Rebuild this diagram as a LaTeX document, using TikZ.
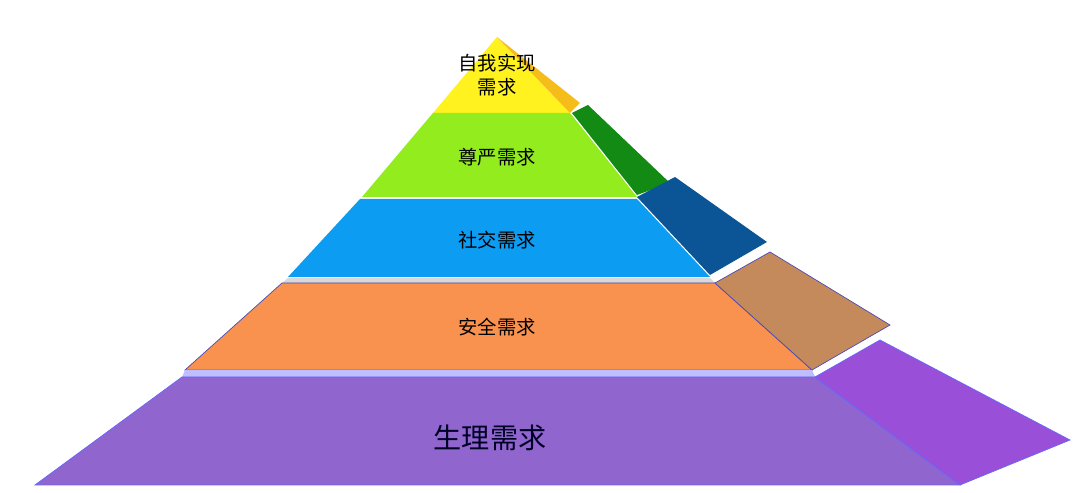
\documentclass[tikz,border=0pt]{standalone}
\usepackage{fontspec}
\newfontfamily\cjk{Noto Sans CJK SC}
\definecolor{topyel}{HTML}{FFF21E}
\definecolor{topside}{HTML}{F5BC1A}
\definecolor{lgreen}{HTML}{92EC1E}
\definecolor{dgreen}{HTML}{128A14}
\definecolor{lblue}{HTML}{0C9CF2}
\definecolor{dblue}{HTML}{0B5596}
\definecolor{lorange}{HTML}{F9914F}
\definecolor{brownside}{HTML}{C48A5C}
\definecolor{lpurple}{HTML}{9165CE}
\definecolor{dpurple}{HTML}{9A4FD8}
\tikzset{
  layer/.style={line width=0.4pt, draw=#1!70!white},
  label/.style={font=\cjk\fontsize{11}{14}\selectfont, text=black, align=center},
  biglabel/.style={font=\cjk\fontsize{16}{19}\selectfont, text=black!85!blue}
}
\begin{document}
\begin{tikzpicture}[x=0.02cm,y=-0.02cm]
	  \useasboundingbox [fill=white] (0,0) rectangle (1080,493);

	  % layer fronts
	  \fill [topyel] (497,37)--(570,113)--(433,113)--cycle;
	  \fill [topside] (497,37)--(580,103)--(570,113)--cycle;
	  \fill [lgreen] (433,113)--(570,113)--(637,197)--(362,197)--cycle;
	  \fill [dgreen] (572,113)--(588,105)--(670,183)--(637,195)--cycle;
	  \fill [lblue] (360,199)--(637,199)--(710,277)--(288,277)--cycle;
	  \fill [dblue] (637,197)--(675,177)--(767,242)--(710,275)--cycle;
	  \fill [black!15] (288,278)--(710,278)--(715,283)--(282,283)--cycle;
	  \draw [layer=lorange, draw=blue!40!gray, fill=lorange] (282,283)--(715,283)--(812,370)--(185,370)--cycle;
	  \draw [draw=blue!40!gray, fill=brownside] (715,283)--(770,252)--(890,325)--(812,370)--cycle;
	  \fill [blue!25] (185,370)--(812,370)--(815,377)--(182,377)--cycle;
	  \draw [draw=blue!60!white, fill=lpurple] (182,377)--(815,377)--(960,485)--(35,485)--cycle;
	  \draw [draw=blue!60!white, fill=dpurple] (815,377)--(880,340)--(1070,440)--(960,485)--cycle;

	  % texts
	  \node [label] (self) at (497,75) {自我实现\\需求};
	  \node [label] (esteem) at (497,157) {尊严需求};
	  \node [label] (social) at (497,240) {社交需求};
	  \node [label] (safety) at (497,327) {安全需求};
	  \node [biglabel] (body) at (490,438) {生理需求};
	\end{tikzpicture}
\end{document}
